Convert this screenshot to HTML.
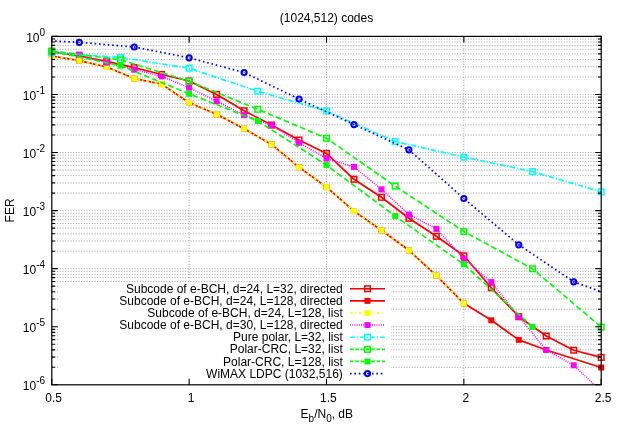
<!DOCTYPE html>
<html><head><meta charset="utf-8"><title>(1024,512) codes</title>
<style>html,body{margin:0;padding:0;background:#fff;width:623px;height:436px;overflow:hidden}
.t{font-family:"Liberation Sans",sans-serif;font-size:12px;fill:#000}</style></head><body>
<svg width="623" height="436" viewBox="0 0 623 436" style="display:block;position:absolute;left:0;top:0;will-change:transform">
<defs><clipPath id="cp"><rect x="51.80" y="36.40" width="549.40" height="348.40"/></clipPath></defs>
<rect width="623" height="436" fill="#fff"/>
<path d="M51.80 94.47H601.20M51.80 76.99H601.20M51.80 66.76H601.20M51.80 59.51H601.20M51.80 53.88H601.20M51.80 49.28H601.20M51.80 45.39H601.20M51.80 42.03H601.20M51.80 39.06H601.20M51.80 152.53H601.20M51.80 135.05H601.20M51.80 124.83H601.20M51.80 117.57H601.20M51.80 111.95H601.20M51.80 107.35H601.20M51.80 103.46H601.20M51.80 100.09H601.20M51.80 97.12H601.20M51.80 210.60H601.20M51.80 193.12H601.20M51.80 182.90H601.20M51.80 175.64H601.20M51.80 170.01H601.20M51.80 165.42H601.20M51.80 161.53H601.20M51.80 158.16H601.20M51.80 155.19H601.20M51.80 268.67H601.20M51.80 251.19H601.20M51.80 240.96H601.20M51.80 233.71H601.20M51.80 228.08H601.20M51.80 223.48H601.20M51.80 219.59H601.20M51.80 216.23H601.20M51.80 213.26H601.20M51.80 326.73H601.20M51.80 309.25H601.20M51.80 299.03H601.20M51.80 291.77H601.20M51.80 286.15H601.20M51.80 281.55H601.20M51.80 277.66H601.20M51.80 274.29H601.20M51.80 271.32H601.20M51.80 367.32H601.20M51.80 357.10H601.20M51.80 349.84H601.20M51.80 344.21H601.20M51.80 339.62H601.20M51.80 335.73H601.20M51.80 332.36H601.20M51.80 329.39H601.20M189.15 384.80V36.40M326.50 384.80V36.40M463.85 384.80V36.40" fill="none" stroke="#000" stroke-opacity="0.47" stroke-width="0.8" stroke-dasharray="1 1.667"/>
<path clip-path="url(#cp)" d="M51.80 51.60L79.27 56.00L106.74 61.30L134.21 67.60L161.68 74.50L189.15 81.00L216.62 94.40L244.09 110.70L271.56 125.00L299.03 140.00L326.50 153.40L353.97 179.30L381.44 197.30L408.91 218.30L436.38 236.30L463.85 255.80L491.32 287.80L518.79 316.70L546.26 336.00L573.73 350.20L601.20 357.40" fill="none" stroke="#ff0000" stroke-width="1.7" stroke-linejoin="round"/>
<rect x="49.00" y="48.80" width="5.6" height="5.6" fill="none" stroke="#ff0000" stroke-width="1.5"/>
<rect x="76.47" y="53.20" width="5.6" height="5.6" fill="none" stroke="#ff0000" stroke-width="1.5"/>
<rect x="103.94" y="58.50" width="5.6" height="5.6" fill="none" stroke="#ff0000" stroke-width="1.5"/>
<rect x="131.41" y="64.80" width="5.6" height="5.6" fill="none" stroke="#ff0000" stroke-width="1.5"/>
<rect x="158.88" y="71.70" width="5.6" height="5.6" fill="none" stroke="#ff0000" stroke-width="1.5"/>
<rect x="186.35" y="78.20" width="5.6" height="5.6" fill="none" stroke="#ff0000" stroke-width="1.5"/>
<rect x="213.82" y="91.60" width="5.6" height="5.6" fill="none" stroke="#ff0000" stroke-width="1.5"/>
<rect x="241.29" y="107.90" width="5.6" height="5.6" fill="none" stroke="#ff0000" stroke-width="1.5"/>
<rect x="268.76" y="122.20" width="5.6" height="5.6" fill="none" stroke="#ff0000" stroke-width="1.5"/>
<rect x="296.23" y="137.20" width="5.6" height="5.6" fill="none" stroke="#ff0000" stroke-width="1.5"/>
<rect x="323.70" y="150.60" width="5.6" height="5.6" fill="none" stroke="#ff0000" stroke-width="1.5"/>
<rect x="351.17" y="176.50" width="5.6" height="5.6" fill="none" stroke="#ff0000" stroke-width="1.5"/>
<rect x="378.64" y="194.50" width="5.6" height="5.6" fill="none" stroke="#ff0000" stroke-width="1.5"/>
<rect x="406.11" y="215.50" width="5.6" height="5.6" fill="none" stroke="#ff0000" stroke-width="1.5"/>
<rect x="433.58" y="233.50" width="5.6" height="5.6" fill="none" stroke="#ff0000" stroke-width="1.5"/>
<rect x="461.05" y="253.00" width="5.6" height="5.6" fill="none" stroke="#ff0000" stroke-width="1.5"/>
<rect x="488.52" y="285.00" width="5.6" height="5.6" fill="none" stroke="#ff0000" stroke-width="1.5"/>
<rect x="515.99" y="313.90" width="5.6" height="5.6" fill="none" stroke="#ff0000" stroke-width="1.5"/>
<rect x="543.46" y="333.20" width="5.6" height="5.6" fill="none" stroke="#ff0000" stroke-width="1.5"/>
<rect x="570.93" y="347.40" width="5.6" height="5.6" fill="none" stroke="#ff0000" stroke-width="1.5"/>
<rect x="598.40" y="354.60" width="5.6" height="5.6" fill="none" stroke="#ff0000" stroke-width="1.5"/>
<path clip-path="url(#cp)" d="M51.80 56.00L79.27 60.70L106.74 67.00L134.21 78.50L161.68 84.10L189.15 102.80L216.62 114.20L244.09 128.70L271.56 144.40L299.03 167.30L326.50 187.10L353.97 211.10L381.44 230.20L408.91 250.30L436.38 275.60L463.85 303.30L491.32 320.30L518.79 339.90L546.26 350.00L601.20 367.50" fill="none" stroke="#ff0000" stroke-width="1.7" stroke-linejoin="round"/>
<rect x="48.80" y="53.00" width="6.0" height="6.0" fill="#ff0000"/>
<rect x="76.27" y="57.70" width="6.0" height="6.0" fill="#ff0000"/>
<rect x="103.74" y="64.00" width="6.0" height="6.0" fill="#ff0000"/>
<rect x="131.21" y="75.50" width="6.0" height="6.0" fill="#ff0000"/>
<rect x="158.68" y="81.10" width="6.0" height="6.0" fill="#ff0000"/>
<rect x="186.15" y="99.80" width="6.0" height="6.0" fill="#ff0000"/>
<rect x="213.62" y="111.20" width="6.0" height="6.0" fill="#ff0000"/>
<rect x="241.09" y="125.70" width="6.0" height="6.0" fill="#ff0000"/>
<rect x="268.56" y="141.40" width="6.0" height="6.0" fill="#ff0000"/>
<rect x="296.03" y="164.30" width="6.0" height="6.0" fill="#ff0000"/>
<rect x="323.50" y="184.10" width="6.0" height="6.0" fill="#ff0000"/>
<rect x="350.97" y="208.10" width="6.0" height="6.0" fill="#ff0000"/>
<rect x="378.44" y="227.20" width="6.0" height="6.0" fill="#ff0000"/>
<rect x="405.91" y="247.30" width="6.0" height="6.0" fill="#ff0000"/>
<rect x="433.38" y="272.60" width="6.0" height="6.0" fill="#ff0000"/>
<rect x="460.85" y="300.30" width="6.0" height="6.0" fill="#ff0000"/>
<rect x="488.32" y="317.30" width="6.0" height="6.0" fill="#ff0000"/>
<rect x="515.79" y="336.90" width="6.0" height="6.0" fill="#ff0000"/>
<rect x="543.26" y="347.00" width="6.0" height="6.0" fill="#ff0000"/>
<rect x="598.20" y="364.50" width="6.0" height="6.0" fill="#ff0000"/>
<path clip-path="url(#cp)" d="M51.80 56.00L79.27 60.70L106.74 67.00L134.21 78.50L161.68 84.10L189.15 102.80L216.62 114.20L244.09 128.70L271.56 144.40L299.03 167.30L326.50 187.10L353.97 211.10L381.44 230.20L408.91 250.30L436.38 275.60L463.85 303.30" fill="none" stroke="#ffff00" stroke-width="1.7" stroke-linejoin="round" stroke-dasharray="2.8 2.3 1.2 2.6"/>
<rect x="48.80" y="53.00" width="6.0" height="6.0" fill="#ffff00"/>
<rect x="76.27" y="57.70" width="6.0" height="6.0" fill="#ffff00"/>
<rect x="103.74" y="64.00" width="6.0" height="6.0" fill="#ffff00"/>
<rect x="131.21" y="75.50" width="6.0" height="6.0" fill="#ffff00"/>
<rect x="158.68" y="81.10" width="6.0" height="6.0" fill="#ffff00"/>
<rect x="186.15" y="99.80" width="6.0" height="6.0" fill="#ffff00"/>
<rect x="213.62" y="111.20" width="6.0" height="6.0" fill="#ffff00"/>
<rect x="241.09" y="125.70" width="6.0" height="6.0" fill="#ffff00"/>
<rect x="268.56" y="141.40" width="6.0" height="6.0" fill="#ffff00"/>
<rect x="296.03" y="164.30" width="6.0" height="6.0" fill="#ffff00"/>
<rect x="323.50" y="184.10" width="6.0" height="6.0" fill="#ffff00"/>
<rect x="350.97" y="208.10" width="6.0" height="6.0" fill="#ffff00"/>
<rect x="378.44" y="227.20" width="6.0" height="6.0" fill="#ffff00"/>
<rect x="405.91" y="247.30" width="6.0" height="6.0" fill="#ffff00"/>
<rect x="433.38" y="272.60" width="6.0" height="6.0" fill="#ffff00"/>
<rect x="460.85" y="300.30" width="6.0" height="6.0" fill="#ffff00"/>
<path clip-path="url(#cp)" d="M51.80 51.60L79.27 54.60L106.74 62.50L134.21 69.70L161.68 76.40L189.15 87.60L216.62 101.30L244.09 115.20L271.56 125.30L299.03 142.80L326.50 158.50L353.97 166.90L381.44 189.40L408.91 214.50L436.38 228.90L463.85 258.60L491.32 282.10L518.79 316.60L546.26 350.00L573.73 365.30L601.20 391.00" fill="none" stroke="#ff00ff" stroke-width="1.5" stroke-linejoin="round" stroke-dasharray="1 1.2"/>
<rect x="48.80" y="48.60" width="6.0" height="6.0" fill="#ff00ff"/>
<rect x="76.27" y="51.60" width="6.0" height="6.0" fill="#ff00ff"/>
<rect x="103.74" y="59.50" width="6.0" height="6.0" fill="#ff00ff"/>
<rect x="131.21" y="66.70" width="6.0" height="6.0" fill="#ff00ff"/>
<rect x="158.68" y="73.40" width="6.0" height="6.0" fill="#ff00ff"/>
<rect x="186.15" y="84.60" width="6.0" height="6.0" fill="#ff00ff"/>
<rect x="213.62" y="98.30" width="6.0" height="6.0" fill="#ff00ff"/>
<rect x="241.09" y="112.20" width="6.0" height="6.0" fill="#ff00ff"/>
<rect x="268.56" y="122.30" width="6.0" height="6.0" fill="#ff00ff"/>
<rect x="296.03" y="139.80" width="6.0" height="6.0" fill="#ff00ff"/>
<rect x="323.50" y="155.50" width="6.0" height="6.0" fill="#ff00ff"/>
<rect x="350.97" y="163.90" width="6.0" height="6.0" fill="#ff00ff"/>
<rect x="378.44" y="186.40" width="6.0" height="6.0" fill="#ff00ff"/>
<rect x="405.91" y="211.50" width="6.0" height="6.0" fill="#ff00ff"/>
<rect x="433.38" y="225.90" width="6.0" height="6.0" fill="#ff00ff"/>
<rect x="460.85" y="255.60" width="6.0" height="6.0" fill="#ff00ff"/>
<rect x="488.32" y="279.10" width="6.0" height="6.0" fill="#ff00ff"/>
<rect x="515.79" y="313.60" width="6.0" height="6.0" fill="#ff00ff"/>
<rect x="543.26" y="347.00" width="6.0" height="6.0" fill="#ff00ff"/>
<rect x="570.73" y="362.30" width="6.0" height="6.0" fill="#ff00ff"/>
<path clip-path="url(#cp)" d="M51.80 52.80L120.48 57.40L189.15 68.20L257.83 91.30L326.50 111.00L395.18 141.50L463.85 157.10L532.53 171.60L601.20 191.80" fill="none" stroke="#00ffff" stroke-width="1.7" stroke-linejoin="round" stroke-dasharray="5.5 1.7 1.1 1.8"/>
<rect x="49.00" y="50.00" width="5.6" height="5.6" fill="none" stroke="#00ffff" stroke-width="1.5"/>
<rect x="117.68" y="54.60" width="5.6" height="5.6" fill="none" stroke="#00ffff" stroke-width="1.5"/>
<rect x="186.35" y="65.40" width="5.6" height="5.6" fill="none" stroke="#00ffff" stroke-width="1.5"/>
<rect x="255.03" y="88.50" width="5.6" height="5.6" fill="none" stroke="#00ffff" stroke-width="1.5"/>
<rect x="323.70" y="108.20" width="5.6" height="5.6" fill="none" stroke="#00ffff" stroke-width="1.5"/>
<rect x="392.38" y="138.70" width="5.6" height="5.6" fill="none" stroke="#00ffff" stroke-width="1.5"/>
<rect x="461.05" y="154.30" width="5.6" height="5.6" fill="none" stroke="#00ffff" stroke-width="1.5"/>
<rect x="529.73" y="168.80" width="5.6" height="5.6" fill="none" stroke="#00ffff" stroke-width="1.5"/>
<rect x="598.40" y="189.00" width="5.6" height="5.6" fill="none" stroke="#00ffff" stroke-width="1.5"/>
<path clip-path="url(#cp)" d="M51.80 51.00L120.48 59.80L189.15 81.30L257.83 109.30L326.50 138.30L395.18 186.10L463.85 231.50L532.53 268.80L601.20 327.10" fill="none" stroke="#00ff00" stroke-width="1.7" stroke-linejoin="round" stroke-dasharray="5.7 3"/>
<rect x="49.00" y="48.20" width="5.6" height="5.6" fill="none" stroke="#00ff00" stroke-width="1.5"/>
<rect x="117.68" y="57.00" width="5.6" height="5.6" fill="none" stroke="#00ff00" stroke-width="1.5"/>
<rect x="186.35" y="78.50" width="5.6" height="5.6" fill="none" stroke="#00ff00" stroke-width="1.5"/>
<rect x="255.03" y="106.50" width="5.6" height="5.6" fill="none" stroke="#00ff00" stroke-width="1.5"/>
<rect x="323.70" y="135.50" width="5.6" height="5.6" fill="none" stroke="#00ff00" stroke-width="1.5"/>
<rect x="392.38" y="183.30" width="5.6" height="5.6" fill="none" stroke="#00ff00" stroke-width="1.5"/>
<rect x="461.05" y="228.70" width="5.6" height="5.6" fill="none" stroke="#00ff00" stroke-width="1.5"/>
<rect x="529.73" y="266.00" width="5.6" height="5.6" fill="none" stroke="#00ff00" stroke-width="1.5"/>
<rect x="598.40" y="324.30" width="5.6" height="5.6" fill="none" stroke="#00ff00" stroke-width="1.5"/>
<path clip-path="url(#cp)" d="M51.80 51.30L120.48 65.70L189.15 93.80L257.83 121.00L326.50 165.10L395.18 216.10L463.85 264.30L532.53 326.90" fill="none" stroke="#00ff00" stroke-width="1.7" stroke-linejoin="round" stroke-dasharray="5.7 3"/>
<rect x="48.80" y="48.30" width="6.0" height="6.0" fill="#00ff00"/>
<rect x="117.48" y="62.70" width="6.0" height="6.0" fill="#00ff00"/>
<rect x="186.15" y="90.80" width="6.0" height="6.0" fill="#00ff00"/>
<rect x="254.83" y="118.00" width="6.0" height="6.0" fill="#00ff00"/>
<rect x="323.50" y="162.10" width="6.0" height="6.0" fill="#00ff00"/>
<rect x="392.18" y="213.10" width="6.0" height="6.0" fill="#00ff00"/>
<rect x="460.85" y="261.30" width="6.0" height="6.0" fill="#00ff00"/>
<rect x="529.53" y="323.90" width="6.0" height="6.0" fill="#00ff00"/>
<path clip-path="url(#cp)" d="M24.33 39.50L79.27 42.30L134.21 47.00L189.15 57.80L244.09 72.50L299.03 99.00L353.97 124.60L408.91 149.80L463.85 198.50L518.79 244.80L573.73 281.80L628.67 301.60" fill="none" stroke="#0000ff" stroke-width="1.7" stroke-linejoin="round" stroke-dasharray="1.6 2.8"/>
<circle cx="79.27" cy="42.30" r="2.6" fill="none" stroke="#0000ff" stroke-width="2"/><circle cx="79.27" cy="42.30" r="0.6" fill="#0000ff"/>
<circle cx="134.21" cy="47.00" r="2.6" fill="none" stroke="#0000ff" stroke-width="2"/><circle cx="134.21" cy="47.00" r="0.6" fill="#0000ff"/>
<circle cx="189.15" cy="57.80" r="2.6" fill="none" stroke="#0000ff" stroke-width="2"/><circle cx="189.15" cy="57.80" r="0.6" fill="#0000ff"/>
<circle cx="244.09" cy="72.50" r="2.6" fill="none" stroke="#0000ff" stroke-width="2"/><circle cx="244.09" cy="72.50" r="0.6" fill="#0000ff"/>
<circle cx="299.03" cy="99.00" r="2.6" fill="none" stroke="#0000ff" stroke-width="2"/><circle cx="299.03" cy="99.00" r="0.6" fill="#0000ff"/>
<circle cx="353.97" cy="124.60" r="2.6" fill="none" stroke="#0000ff" stroke-width="2"/><circle cx="353.97" cy="124.60" r="0.6" fill="#0000ff"/>
<circle cx="408.91" cy="149.80" r="2.6" fill="none" stroke="#0000ff" stroke-width="2"/><circle cx="408.91" cy="149.80" r="0.6" fill="#0000ff"/>
<circle cx="463.85" cy="198.50" r="2.6" fill="none" stroke="#0000ff" stroke-width="2"/><circle cx="463.85" cy="198.50" r="0.6" fill="#0000ff"/>
<circle cx="518.79" cy="244.80" r="2.6" fill="none" stroke="#0000ff" stroke-width="2"/><circle cx="518.79" cy="244.80" r="0.6" fill="#0000ff"/>
<circle cx="573.73" cy="281.80" r="2.6" fill="none" stroke="#0000ff" stroke-width="2"/><circle cx="573.73" cy="281.80" r="0.6" fill="#0000ff"/>
<rect x="58.6" y="283" width="332.40" height="101.20" fill="#fff"/>
<path d="M350 288.75H385" stroke="#ff0000" stroke-width="1.7" fill="none"/>
<rect x="364.70" y="285.95" width="5.6" height="5.6" fill="none" stroke="#ff0000" stroke-width="1.5"/>
<path d="M350 300.87H385" stroke="#ff0000" stroke-width="1.7" fill="none"/>
<rect x="364.50" y="297.87" width="6.0" height="6.0" fill="#ff0000"/>
<path d="M350 312.99H385" stroke="#ffff00" stroke-width="1.7" fill="none" stroke-dasharray="2.8 2.3 1.2 2.6"/>
<rect x="364.50" y="309.99" width="6.0" height="6.0" fill="#ffff00"/>
<path d="M350 325.11H385" stroke="#ff00ff" stroke-width="1.5" fill="none" stroke-dasharray="1 1.2"/>
<rect x="364.50" y="322.11" width="6.0" height="6.0" fill="#ff00ff"/>
<path d="M350 337.23H385" stroke="#00ffff" stroke-width="1.7" fill="none" stroke-dasharray="4.8 1.8 1.2 2.2"/>
<rect x="364.70" y="334.43" width="5.6" height="5.6" fill="none" stroke="#00ffff" stroke-width="1.5"/>
<path d="M350 349.35H385" stroke="#00ff00" stroke-width="1.7" fill="none" stroke-dasharray="3.6 1.7"/>
<rect x="364.70" y="346.55" width="5.6" height="5.6" fill="none" stroke="#00ff00" stroke-width="1.5"/>
<path d="M350 361.47H385" stroke="#00ff00" stroke-width="1.7" fill="none" stroke-dasharray="3.6 1.7"/>
<rect x="364.50" y="358.47" width="6.0" height="6.0" fill="#00ff00"/>
<path d="M350 373.59H385" stroke="#0000ff" stroke-width="1.7" fill="none" stroke-dasharray="1.6 2.8"/>
<circle cx="367.50" cy="373.59" r="2.6" fill="none" stroke="#0000ff" stroke-width="2"/><circle cx="367.50" cy="373.59" r="0.6" fill="#0000ff"/>
<path d="M51.80 36.40h6.0M601.20 36.40h-6.0M51.80 94.47h6.0M601.20 94.47h-6.0M51.80 76.99h3.3M601.20 76.99h-3.3M51.80 66.76h3.3M601.20 66.76h-3.3M51.80 59.51h3.3M601.20 59.51h-3.3M51.80 53.88h3.3M601.20 53.88h-3.3M51.80 49.28h3.3M601.20 49.28h-3.3M51.80 45.39h3.3M601.20 45.39h-3.3M51.80 42.03h3.3M601.20 42.03h-3.3M51.80 39.06h3.3M601.20 39.06h-3.3M51.80 152.53h6.0M601.20 152.53h-6.0M51.80 135.05h3.3M601.20 135.05h-3.3M51.80 124.83h3.3M601.20 124.83h-3.3M51.80 117.57h3.3M601.20 117.57h-3.3M51.80 111.95h3.3M601.20 111.95h-3.3M51.80 107.35h3.3M601.20 107.35h-3.3M51.80 103.46h3.3M601.20 103.46h-3.3M51.80 100.09h3.3M601.20 100.09h-3.3M51.80 97.12h3.3M601.20 97.12h-3.3M51.80 210.60h6.0M601.20 210.60h-6.0M51.80 193.12h3.3M601.20 193.12h-3.3M51.80 182.90h3.3M601.20 182.90h-3.3M51.80 175.64h3.3M601.20 175.64h-3.3M51.80 170.01h3.3M601.20 170.01h-3.3M51.80 165.42h3.3M601.20 165.42h-3.3M51.80 161.53h3.3M601.20 161.53h-3.3M51.80 158.16h3.3M601.20 158.16h-3.3M51.80 155.19h3.3M601.20 155.19h-3.3M51.80 268.67h6.0M601.20 268.67h-6.0M51.80 251.19h3.3M601.20 251.19h-3.3M51.80 240.96h3.3M601.20 240.96h-3.3M51.80 233.71h3.3M601.20 233.71h-3.3M51.80 228.08h3.3M601.20 228.08h-3.3M51.80 223.48h3.3M601.20 223.48h-3.3M51.80 219.59h3.3M601.20 219.59h-3.3M51.80 216.23h3.3M601.20 216.23h-3.3M51.80 213.26h3.3M601.20 213.26h-3.3M51.80 326.73h6.0M601.20 326.73h-6.0M51.80 309.25h3.3M601.20 309.25h-3.3M51.80 299.03h3.3M601.20 299.03h-3.3M51.80 291.77h3.3M601.20 291.77h-3.3M51.80 286.15h3.3M601.20 286.15h-3.3M51.80 281.55h3.3M601.20 281.55h-3.3M51.80 277.66h3.3M601.20 277.66h-3.3M51.80 274.29h3.3M601.20 274.29h-3.3M51.80 271.32h3.3M601.20 271.32h-3.3M51.80 384.80h6.0M601.20 384.80h-6.0M51.80 367.32h3.3M601.20 367.32h-3.3M51.80 357.10h3.3M601.20 357.10h-3.3M51.80 349.84h3.3M601.20 349.84h-3.3M51.80 344.21h3.3M601.20 344.21h-3.3M51.80 339.62h3.3M601.20 339.62h-3.3M51.80 335.73h3.3M601.20 335.73h-3.3M51.80 332.36h3.3M601.20 332.36h-3.3M51.80 329.39h3.3M601.20 329.39h-3.3M51.80 384.80v-6M51.80 36.40v6M189.15 384.80v-6M189.15 36.40v6M326.50 384.80v-6M326.50 36.40v6M463.85 384.80v-6M463.85 36.40v6M601.20 384.80v-6M601.20 36.40v6" fill="none" stroke="#000" stroke-width="1.1"/>
<rect x="51.80" y="36.40" width="549.40" height="348.40" fill="none" stroke="#000" stroke-width="1.2"/>
<g style="filter:grayscale(1)"><text x="342.8" y="292.85" text-anchor="end" class="t">Subcode of e-BCH, d=24, L=32, directed</text><text x="342.8" y="304.97" text-anchor="end" class="t">Subcode of e-BCH, d=24, L=128, directed</text><text x="342.8" y="317.09" text-anchor="end" class="t">Subcode of e-BCH, d=24, L=128, list</text><text x="342.8" y="329.21" text-anchor="end" class="t">Subcode of e-BCH, d=30, L=128, directed</text><text x="342.8" y="341.33" text-anchor="end" class="t">Pure polar, L=32, list</text><text x="342.8" y="353.45" text-anchor="end" class="t">Polar-CRC, L=32, list</text><text x="342.8" y="365.57" text-anchor="end" class="t">Polar-CRC, L=128, list</text><text x="342.8" y="377.69" text-anchor="end" class="t">WiMAX LDPC (1032,516)</text><text x="45.1" y="41.70" text-anchor="end" class="t">10<tspan dy="-5.9" font-size="10">0</tspan></text><text x="45.1" y="99.77" text-anchor="end" class="t">10<tspan dy="-5.9" font-size="10">-1</tspan></text><text x="45.1" y="157.83" text-anchor="end" class="t">10<tspan dy="-5.9" font-size="10">-2</tspan></text><text x="45.1" y="215.90" text-anchor="end" class="t">10<tspan dy="-5.9" font-size="10">-3</tspan></text><text x="45.1" y="273.97" text-anchor="end" class="t">10<tspan dy="-5.9" font-size="10">-4</tspan></text><text x="45.1" y="332.03" text-anchor="end" class="t">10<tspan dy="-5.9" font-size="10">-5</tspan></text><text x="45.1" y="390.10" text-anchor="end" class="t">10<tspan dy="-5.9" font-size="10">-6</tspan></text><text x="53.70" y="401.7" text-anchor="middle" class="t">0.5</text><text x="191.05" y="401.7" text-anchor="middle" class="t">1</text><text x="328.40" y="401.7" text-anchor="middle" class="t">1.5</text><text x="465.75" y="401.7" text-anchor="middle" class="t">2</text><text x="603.10" y="401.7" text-anchor="middle" class="t">2.5</text><text x="326.5" y="22.4" text-anchor="middle" class="t">(1024,512) codes</text><text x="326.8" y="417.9" text-anchor="middle" class="t">E<tspan dy="3.6" font-size="10">b</tspan><tspan dy="-3.6">/N</tspan><tspan dy="3.6" font-size="10">0</tspan><tspan dy="-3.6">, dB</tspan></text><text transform="translate(13.6 210.4) rotate(-90)" text-anchor="middle" class="t">FER</text></g>
</svg>
</body></html>
